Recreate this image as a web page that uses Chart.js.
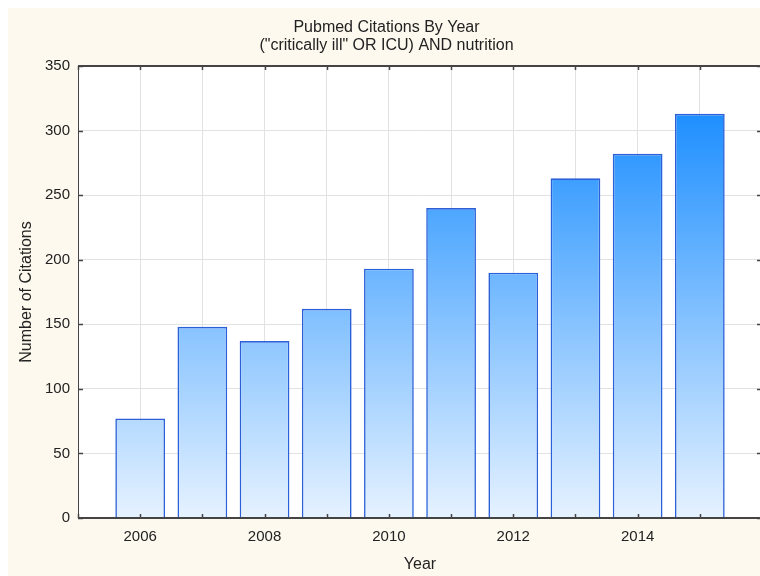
<!DOCTYPE html>
<html>
<head>
<meta charset="utf-8">
<script src="https://cdn.jsdelivr.net/npm/chart.js@4"></script>
<style>
  html { overflow: hidden; }
  html, body { margin: 0; padding: 0; background: #fff; }
  #chart { position: absolute; left: 8px; top: 8px; display: block; }
</style>
</head>
<body>
<canvas id="chart" width="764" height="570"></canvas>
<script>
// data
const years = [2006, 2007, 2008, 2009, 2010, 2011, 2012, 2013, 2014, 2015];
const citations = [77, 148, 137, 162, 193, 240, 190, 263, 282, 313];
const yearLabels = [2006, 2008, 2010, 2012, 2014];

const fontFamily = "'Liberation Sans', Arial, sans-serif";
Chart.defaults.font.family = fontFamily;
Chart.defaults.color = "#222";

// cream page, white plot box, dark frame and small inward ticks
const frame = {
  id: "frame",
  beforeDraw(chart) {
    const { ctx, chartArea: a } = chart;
    ctx.save();
    ctx.fillStyle = "#fef9ee";
    ctx.fillRect(0, 0, chart.width, chart.height);
    ctx.fillStyle = "#fff";
    ctx.fillRect(a.left, a.top, a.right - a.left, a.bottom - a.top);
    ctx.restore();
  },
  afterDraw(chart) {
    const { ctx, chartArea: a, scales } = chart;
    ctx.save();
    ctx.strokeStyle = "#444";
    ctx.lineWidth = 2;
    ctx.beginPath();
    ctx.moveTo(a.left, a.top);
    ctx.lineTo(a.right, a.top);
    ctx.moveTo(a.left, a.bottom);
    ctx.lineTo(a.right, a.bottom);
    ctx.moveTo(a.right, a.top);
    ctx.lineTo(a.right, a.bottom);
    ctx.stroke();
    ctx.lineWidth = 1.5;
    ctx.beginPath();
    scales.x.ticks.forEach((t, i) => {
      const x = Math.round(scales.x.getPixelForTick(i)) + 0.5;
      ctx.moveTo(x, a.bottom);
      ctx.lineTo(x, a.bottom - 4);
      ctx.moveTo(x, a.top);
      ctx.lineTo(x, a.top + 4);
    });
    scales.y.ticks.forEach((t, i) => {
      const y = Math.round(scales.y.getPixelForTick(i)) + 0.5;
      ctx.moveTo(a.left, y);
      ctx.lineTo(a.left + 5, y);
      ctx.moveTo(a.right, y);
      ctx.lineTo(a.right - 5, y);
    });
    ctx.stroke();
    ctx.restore();
  }
};

function barGradient(context) {
  const chart = context.chart;
  if (!chart.chartArea) return "#7fbfff";
  const y = chart.scales.y;
  const g = chart.ctx.createLinearGradient(0, y.getPixelForValue(0), 0, y.getPixelForValue(Math.max(...citations)));
  g.addColorStop(0, "#e6f2ff");
  g.addColorStop(1, "#1e8fff");
  return g;
}

new Chart(document.getElementById("chart").getContext("2d"), {
  type: "bar",
  data: {
    datasets: [{
      label: "Citations",
      data: years.map((yr, i) => ({ x: yr, y: citations[i] })),
      backgroundColor: barGradient,
      borderColor: "#2b60d8",
      borderWidth: 1.6,
      borderSkipped: "bottom",
      barPercentage: 0.8,
      categoryPercentage: 1
    }]
  },
  plugins: [frame],
  options: {
    responsive: false,
    animation: false,
    layout: { padding: { left: 0, right: 7, top: 0, bottom: 0 } },
    plugins: {
      legend: { display: false },
      tooltip: { enabled: false },
      title: {
        display: true,
        text: ["Pubmed Citations By Year", "(\"critically ill\" OR ICU) AND nutrition"],
        color: "#222",
        font: { size: 16, weight: "normal", lineHeight: 1.125 },
        padding: { top: 11, bottom: 11 }
      }
    },
    scales: {
      x: {
        type: "linear",
        min: 2005,
        max: 2016,
        offset: false,
        grid: { color: "#e2e2e2", lineWidth: 1, drawTicks: false, offset: false },
        border: { display: false },
        ticks: {
          stepSize: 1,
          autoSkip: false,
          maxRotation: 0,
          padding: 10,
          font: { size: 15 },
          callback: v => yearLabels.includes(v) ? String(v) : ""
        },
        title: {
          display: true,
          text: "Year",
          font: { size: 16 },
          padding: { top: 0, bottom: 4 }
        },
        afterFit: s => { s.height = 60; }
      },
      y: {
        min: 0,
        max: 350,
        grid: { color: "#e2e2e2", lineWidth: 1, drawTicks: false },
        border: { display: true, color: "#444", width: 1 },
        ticks: { stepSize: 50, padding: 8, font: { size: 15 } },
        title: {
          display: true,
          text: "Number of Citations",
          font: { size: 16 },
          padding: { top: 9, bottom: 0 }
        },
        afterFit: s => { s.width = 70; }
      }
    }
  }
});
</script>
</body>
</html>
